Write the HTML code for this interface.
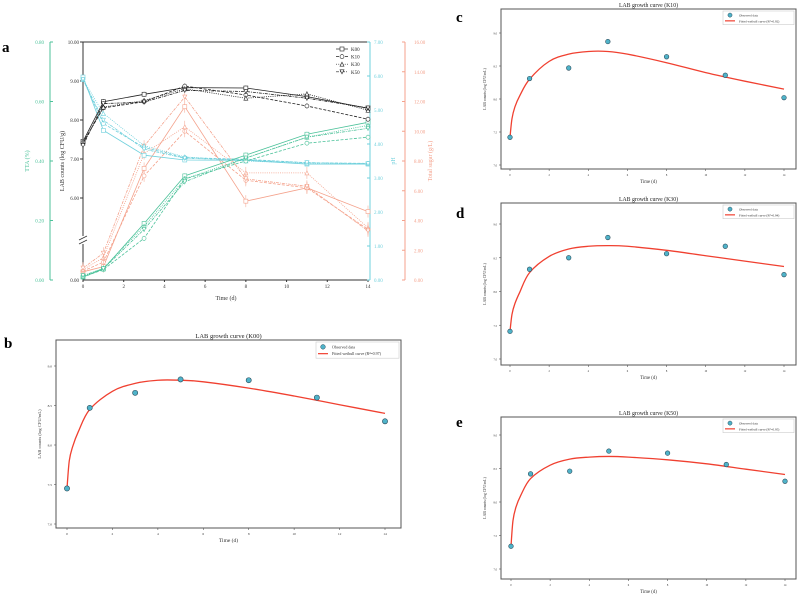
<!DOCTYPE html>
<html><head><meta charset="utf-8"><style>
body{margin:0;background:#fff;}
svg{display:block;font-family:"Liberation Serif",serif;}
</style></head><body>
<svg id="fig" width="800" height="595" viewBox="0 0 800 595" xmlns="http://www.w3.org/2000/svg"></svg>
<script>
// ---------- Panel a data ----------
const days = [0,1,3,5,8,11,14];
const groups = ["K00","K10","K30","K50"];
const labK00 = [7.45,8.47,8.66,8.83,8.82,8.60,8.30];
const labK10 = [7.42,8.31,8.47,8.87,8.64,8.36,8.02];
const labK30 = [7.41,8.33,8.50,8.80,8.56,8.67,8.25];
const labK50 = [7.34,8.42,8.46,8.76,8.73,8.56,8.31];
const ttaK00 = [0.01,0.037,0.19,0.35,0.42,0.49,0.53];
const ttaK10 = [0.01,0.035,0.14,0.34,0.40,0.46,0.48];
const ttaK30 = [0.012,0.04,0.18,0.34,0.41,0.48,0.52];
const ttaK50 = [0.015,0.038,0.17,0.33,0.41,0.48,0.51];
const phK00 = [5.97,4.40,3.67,3.53,3.52,3.41,3.41];
const phK10 = [5.90,4.60,3.90,3.60,3.55,3.45,3.43];
const phK30 = [5.90,4.90,3.95,3.62,3.50,3.43,3.42];
const phK50 = [5.90,4.70,3.85,3.58,3.53,3.45,3.42];
const sugK00 = [0.55,0.9,7.5,11.65,5.3,6.2,4.6];
const sugK10 = [0.6,1.2,7.0,10.0,6.7,6.2,3.4];
const sugK30 = [0.7,1.5,8.5,10.3,7.2,7.2,3.5];
const sugK50 = [0.8,1.8,9.0,12.3,6.8,6.3,3.3];
const labTicks = ["10.00","9.00","8.00","7.00","6.00"];
const ttaTicks = ["0.00","0.20","0.40","0.60","0.80"];
const phTicks = ["0.00","1.00","2.00","3.00","4.00","5.00","6.00","7.00"];
const sugTicks = ["0.00","2.00","4.00","6.00","8.00","10.00","12.00","14.00","16.00"];
const dayTicks = [0,2,4,6,8,10,12,14];
// ---------- Growth-curve panels data ----------
const obsK00 = [7.45,8.47,8.66,8.83,8.82,8.60,8.30];
const obsK10 = [7.42,8.31,8.47,8.87,8.64,8.36,8.02];
const obsK30 = [7.41,8.33,8.50,8.80,8.56,8.67,8.25];
const obsK50 = [7.34,8.42,8.46,8.76,8.73,8.56,8.31];
const fitT = [0,0.1,0.25,0.5,1,2,3,4,5,6,8,10,12,14];
const fitK00 = [7.45,7.80,7.98,8.17,8.45,8.68,8.78,8.82,8.82,8.80,8.72,8.62,8.51,8.40];
const fitK10 = [7.42,7.70,7.88,8.05,8.30,8.57,8.68,8.72,8.72,8.68,8.55,8.40,8.27,8.15];
const fitK30 = [7.41,7.66,7.82,7.99,8.28,8.52,8.63,8.67,8.68,8.67,8.61,8.53,8.45,8.37];
const fitK50 = [7.34,7.72,7.92,8.10,8.35,8.55,8.64,8.67,8.68,8.67,8.63,8.57,8.49,8.41];
const r2 = ["0.97","0.92","0.94","0.95"];

const NS="http://www.w3.org/2000/svg";
const svg=document.getElementById('fig');
function el(tag,attrs,parent,txt){const e=document.createElementNS(NS,tag);for(const k in attrs)e.setAttribute(k,attrs[k]);if(txt!==undefined)e.textContent=txt;(parent||svg).appendChild(e);return e;}
function pathD(pts){return pts.map((p,i)=>(i?'L':'M')+p[0].toFixed(1)+','+p[1].toFixed(1)).join('');}
function smoothD(p){
  let d='M'+p[0][0].toFixed(2)+','+p[0][1].toFixed(2);
  for(let i=0;i<p.length-1;i++){
    const p0=p[i-1]||p[i],p1=p[i],p2=p[i+1],p3=p[i+2]||p2;
    const c1=[p1[0]+(p2[0]-p0[0])/6,p1[1]+(p2[1]-p0[1])/6];
    const c2=[p2[0]-(p3[0]-p1[0])/6,p2[1]-(p3[1]-p1[1])/6];
    d+=`C${c1[0].toFixed(2)},${c1[1].toFixed(2)} ${c2[0].toFixed(2)},${c2[1].toFixed(2)} ${p2[0].toFixed(2)},${p2[1].toFixed(2)}`;
  }
  return d;
}

// ================= PANEL A =================
const ga=el('g',{});


const A={x0:83,x1:368,y0:42,y1:280};
const ax=d=>A.x0+(d/14)*(A.x1-A.x0);
const yLab=v=>A.y0+(10-v)*39;
const yTta=v=>A.y1-v/0.8*(A.y1-A.y0);
const yPh=v=>A.y1-v/7*(A.y1-A.y0);
const ySug=v=>A.y1-v/16*(A.y1-A.y0);
let t=el('text',{x:2,y:52,'font-size':15,'font-weight':'bold'},ga,'a');

let fr=el('path',{d:`M${A.x0},${A.y0}H${A.x1}M${A.x0},${A.y0}V236M${A.x0},244V${A.y1}H${A.x1}`,stroke:'#333',fill:'none','stroke-width':1},ga);

el('path',{d:'M79,240l8,-4M79,244l8,-4',stroke:'#333','stroke-width':0.8},ga);
labTicks.forEach(s=>{const v=parseFloat(s);const y=yLab(v);el('line',{x1:A.x0-3,x2:A.x0,y1:y,y2:y,stroke:'#333'},ga);const tt=el('text',{x:A.x0-4,y:y+2,'font-size':5,'text-anchor':'end',fill:'#333'},ga,s);});
el('text',{x:A.x0-4,y:A.y1+2,'font-size':5,'text-anchor':'end',fill:'#333'},ga,'0.00');
t=el('text',{x:64,y:161,'font-size':6,'text-anchor':'middle',transform:'rotate(-90 64 161)',fill:'#333'},ga,'LAB counts (log CFU/g)');

dayTicks.forEach(d=>{const x=ax(d);el('line',{x1:x,x2:x,y1:A.y1,y2:A.y1+2,stroke:'#333'},ga);const tt=el('text',{x:x,y:A.y1+8,'font-size':5,'text-anchor':'middle',fill:'#333'},ga,String(d));});
t=el('text',{x:226,y:300,'font-size':6,'text-anchor':'middle',fill:'#333'},ga,'Time (d)');

const cT='#4cc29a',cP='#6fd0dc',cS='#f4a28c';
el('line',{x1:50,x2:50,y1:A.y0,y2:A.y1,stroke:cT},ga);
ttaTicks.forEach(s=>{const y=yTta(parseFloat(s));el('line',{x1:50,x2:53,y1:y,y2:y,stroke:cT},ga);const tt=el('text',{x:44,y:y+2,'font-size':5,'text-anchor':'end',fill:cT},ga,s);});
t=el('text',{x:29,y:161,'font-size':6,'text-anchor':'middle',transform:'rotate(-90 29 161)',fill:cT},ga,'TTA (%)');

el('line',{x1:370,x2:370,y1:A.y0,y2:A.y1,stroke:cP},ga);
phTicks.forEach(s=>{const y=yPh(parseFloat(s));el('line',{x1:367,x2:370,y1:y,y2:y,stroke:cP},ga);const tt=el('text',{x:374,y:y+2,'font-size':5,fill:cP},ga,s);});
t=el('text',{x:395,y:161,'font-size':6,'text-anchor':'middle',transform:'rotate(-90 395 161)',fill:cP},ga,'pH');

el('line',{x1:405,x2:405,y1:A.y0,y2:A.y1,stroke:cS},ga);
sugTicks.forEach(s=>{const y=ySug(parseFloat(s));el('line',{x1:402,x2:405,y1:y,y2:y,stroke:cS},ga);const tt=el('text',{x:414,y:y+2,'font-size':5,fill:cS},ga,s);});
t=el('text',{x:432,y:161,'font-size':6,'text-anchor':'middle',transform:'rotate(-90 432 161)',fill:cS},ga,'Total sugar (g/L)');


const dashes=['none','3,1.5','1,1.2','3,1,1,1'];
function marker(g,k,x,y,c){
  const r=2;let m;
  if(k==0)m=el('rect',{x:x-r,y:y-r,width:2*r,height:2*r,fill:'#fff',stroke:c,'stroke-width':0.6},g);
  else if(k==1)m=el('circle',{cx:x,cy:y,r:r,fill:'#fff',stroke:c,'stroke-width':0.6},g);
  else if(k==2)m=el('path',{d:`M${x},${y-r}L${x+r},${y+r}L${x-r},${y+r}Z`,fill:'#fff',stroke:c,'stroke-width':0.6},g);
  else m=el('path',{d:`M${x-r},${y-r}L${x+r},${y-r}L${x},${y+r}Z`,fill:'#fff',stroke:c,'stroke-width':0.6},g);
  
  
}
function series(vals,yf,c,k,name,eb){
  const g=el('g',{},ga);
  
  
  const pts=vals.map((v,i)=>[ax(days[i]),yf(v)]);
  el('path',{d:pathD(pts),fill:'none',stroke:c,'stroke-width':0.8,'stroke-dasharray':dashes[k]},g);
  pts.forEach(p=>{if(eb){el('line',{x1:p[0],x2:p[0],y1:p[1]-eb,y2:p[1]+eb,stroke:c,'stroke-width':0.5},g);}marker(g,k,p[0],p[1],c);});
}
const sugS=[sugK00,sugK10,sugK30,sugK50],phS=[phK00,phK10,phK30,phK50],ttaS=[ttaK00,ttaK10,ttaK30,ttaK50],labS=[labK00,labK10,labK30,labK50];
sugS.forEach((s,k)=>series(s,ySug,cS,k,'sugar-line-'+groups[k].toLowerCase(),6));
phS.forEach((s,k)=>series(s,yPh,cP,k,'ph-line-'+groups[k].toLowerCase(),1.5));
ttaS.forEach((s,k)=>series(s,yTta,cT,k,'tta-line-'+groups[k].toLowerCase(),2.5));
labS.forEach((s,k)=>series(s,yLab,'#222',k,'lab-line-'+groups[k].toLowerCase(),2.5));
const lg=el('g',{},ga);


groups.forEach((g,k)=>{const y=49+k*7.6;el('line',{x1:336,x2:348,y1:y,y2:y,stroke:'#222','stroke-width':0.7,'stroke-dasharray':dashes[k]},lg);marker(lg,k,342,y,'#222');const tt=el('text',{x:351,y:y+2,'font-size':5,fill:'#222'},lg,g);});

// ================= GROWTH PANELS =================
function growth(cfg){
  const g=el('g',{});
  
  
  const {fx0,fx1,fy0,fy1,x0,x14,y9,y7}=cfg;
  const X=d=>x0+d/14*(x14-x0);
  const Y=v=>y7-(v-7)/2*(y7-y9);
  let tt=el('text',{x:cfg.lx,y:cfg.ly,'font-size':15,'font-weight':'bold'},g,cfg.id);
  
  tt=el('text',{x:(fx0+fx1)/2,y:fy0-2,'font-size':cfg.fs+2,'text-anchor':'middle',fill:'#222'},g,'LAB growth curve ('+cfg.name+')');
  
  const fr=el('rect',{x:fx0,y:fy0,width:fx1-fx0,height:fy1-fy0,fill:'none',stroke:'#555','stroke-width':1},g);
  
  ["7.0","7.5","8.0","8.5","9.0"].forEach(s=>{const y=Y(parseFloat(s));el('line',{x1:fx0-2,x2:fx0,y1:y,y2:y,stroke:'#555','stroke-width':0.6},g);const q=el('text',{x:fx0-4,y:y+1.5,'font-size':cfg.fs-1,'text-anchor':'end',fill:'#333'},g,s);});
  dayTicks.forEach(d=>{const x=X(d);el('line',{x1:x,x2:x,y1:fy1,y2:fy1+2,stroke:'#555','stroke-width':0.6},g);const q=el('text',{x:x,y:fy1+7,'font-size':cfg.fs-1,'text-anchor':'middle',fill:'#333'},g,String(d));});
  tt=el('text',{x:(fx0+fx1)/2,y:fy1+14,'font-size':cfg.fs+1,'text-anchor':'middle',fill:'#333'},g,'Time (d)');
  
  const my=(fy0+fy1)/2;
  tt=el('text',{x:fx0-15,y:my,'font-size':cfg.fs,'text-anchor':'middle',transform:`rotate(-90 ${fx0-15} ${my})`,fill:'#333'},g,'LAB counts (log CFU/mL)');
  
  const fit=el('path',{d:smoothD(fitT.map((d,i)=>[X(d),Y(cfg.fit[i])])),fill:'none',stroke:'#f04030','stroke-width':1.3,'stroke-linejoin':'round'},g);
  
  cfg.obs.forEach((v,i)=>{const c=el('circle',{cx:X(days[i]),cy:Y(v),r:cfg.r,fill:'#4fb3c9',stroke:'#2a4a5a','stroke-width':0.6},g);});
  const lw=cfg.legW,lx=fx1-lw-2,ly=fy0+2,lh=cfg.fs*3.6;
  const L=el('g',{},g);
  
  
  el('rect',{x:lx,y:ly,width:lw,height:lh,fill:'#fff',stroke:'#ccc','stroke-width':0.6},L);
  el('circle',{cx:lx+7,cy:ly+lh*0.3,r:cfg.r*0.9,fill:'#4fb3c9',stroke:'#2a4a5a','stroke-width':0.5},L);
  el('line',{x1:lx+2,x2:lx+12,y1:ly+lh*0.72,y2:ly+lh*0.72,stroke:'#f04030','stroke-width':1.2},L);
  tt=el('text',{x:lx+16,y:ly+lh*0.3+1.5,'font-size':cfg.fs-0.5,fill:'#333'},L,'Observed data');
  
  tt=el('text',{x:lx+16,y:ly+lh*0.72+1.5,'font-size':cfg.fs-0.5,fill:'#333'},L,'Fitted weibull curve (R²=0.'+cfg.r2.slice(2)+')');
  
}
growth({id:'b',name:'K00',lx:4,ly:348,fx0:56,fx1:401,fy0:340,fy1:528,x0:67,x14:385,y9:366,y7:524,obs:obsK00,fit:fitK00,r2:r2[0],fs:4.5,r:2.6,legW:83});
growth({id:'c',name:'K10',lx:456,ly:22,fx0:501,fx1:796,fy0:9,fy1:169,x0:510,x14:784,y9:33,y7:165,obs:obsK10,fit:fitK10,r2:r2[1],fs:3.8,r:2.3,legW:71});
growth({id:'d',name:'K30',lx:456,ly:218,fx0:501,fx1:796,fy0:203,fy1:365,x0:510,x14:784,y9:224,y7:359,obs:obsK30,fit:fitK30,r2:r2[2],fs:3.8,r:2.3,legW:71});
growth({id:'e',name:'K50',lx:456,ly:427,fx0:501,fx1:796,fy0:417,fy1:579,x0:511,x14:785,y9:435,y7:569,obs:obsK50,fit:fitK50,r2:r2[3],fs:3.8,r:2.3,legW:71});
</script>
</body></html>
